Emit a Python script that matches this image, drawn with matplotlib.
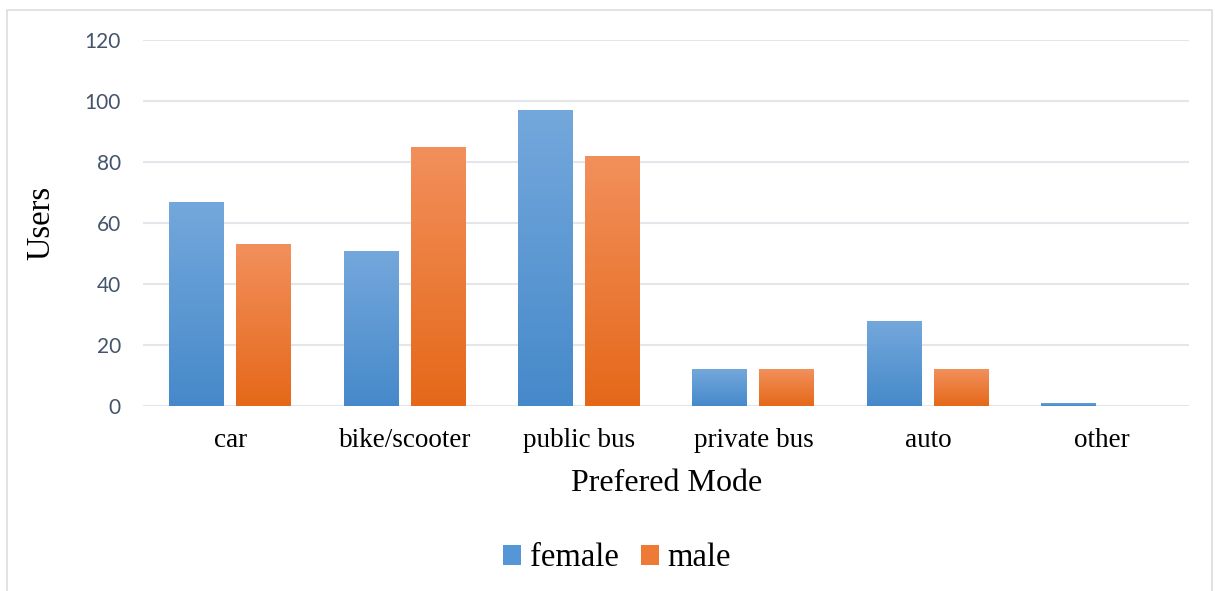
import numpy as np
import matplotlib.pyplot as plt
from matplotlib.colors import LinearSegmentedColormap
from matplotlib.patches import Rectangle, Patch

modes = ["car", "bike/scooter", "public bus", "private bus", "auto", "other"]
female = [67, 51, 97, 12, 28, 1]
male = [53, 85, 82, 12, 12, 0]

blue_top, blue_bot = "#74A8DC", "#4689CA"
orange_top, orange_bot = "#F2905C", "#E56819"

fig = plt.figure(figsize=(12.15, 5.91), dpi=100)
ax = fig.add_axes([0.1177, 0.313, 0.979 - 0.1177, 0.932 - 0.313])

# outer chart border
fig.patches.append(Rectangle((7 / 1215, -0.01), 1205 / 1215, 1 - 10 / 591 + 0.01,
                             transform=fig.transFigure, fill=False,
                             edgecolor="#D9DDE3", linewidth=1.2))

x = np.arange(len(modes))
w = 0.315
off = 0.192


def gradient_bars(bars, top, bot):
    cmap = LinearSegmentedColormap.from_list("g", [bot, top])
    grad = np.linspace(0, 1, 256).reshape(-1, 1)
    for b in bars:
        h = b.get_height()
        if h <= 0:
            continue
        x0 = b.get_x()
        im = ax.imshow(grad, cmap=cmap, aspect="auto", origin="lower",
                       extent=[x0, x0 + b.get_width(), 0, h], zorder=3)
        im.set_clip_path(b)


fb = ax.bar(x - off, female, w, color=blue_bot, zorder=2, linewidth=0)
mb = ax.bar(x + off, male, w, color=orange_bot, zorder=2, linewidth=0)
gradient_bars(fb, blue_top, blue_bot)
gradient_bars(mb, orange_top, orange_bot)

ax.set_xlim(-0.5, len(modes) - 0.5)
ax.set_ylim(0, 120)
ax.set_yticks(range(0, 121, 20))
ax.set_xticks(x)
ax.set_xticklabels(modes, fontfamily="Liberation Serif", fontsize=19.5)
ax.tick_params(axis="x", length=0, pad=15.5)
ax.tick_params(axis="y", length=0, pad=16, labelsize=15, labelcolor="#44546A")
for lab in ax.get_yticklabels():
    lab.set_fontfamily("Lato")

ax.grid(axis="y", color="#E3E6EB", linewidth=1.5, zorder=0)
for s in ax.spines.values():
    s.set_visible(False)

ax.set_ylabel("Users", fontfamily="Liberation Serif", fontsize=23.5, labelpad=20)
ax.set_xlabel("Prefered Mode", fontfamily="Liberation Serif", fontsize=23, labelpad=12)

handles = [Patch(facecolor="#5597D6", label="female"),
           Patch(facecolor="#EE7A35", label="male")]
fig.legend(handles=handles, loc="center", bbox_to_anchor=(0.508, 1 - 558 / 591),
           ncol=2, frameon=False, prop={"family": "Liberation Serif", "size": 23.5},
           handlelength=0.55, handleheight=0.55, handletextpad=0.25, columnspacing=0.7)

fig.savefig("out.png", dpi=100)
